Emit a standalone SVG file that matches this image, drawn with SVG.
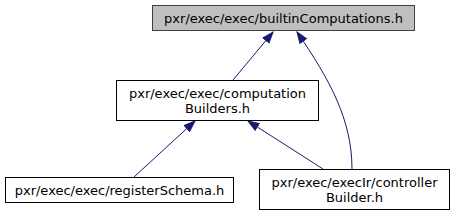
<svg xmlns="http://www.w3.org/2000/svg" width="453" height="216" viewBox="0 0 453 216">
<style>
.node rect{stroke:#000;stroke-width:1;fill:#fff}
#n0 rect{fill:#bfbfbf;stroke:#404040}
.node text{font-family:"DejaVu Sans",sans-serif;font-size:13px;fill:#000;text-anchor:middle}
.edge{fill:none;stroke:#191970;stroke-width:1}
</style>
<defs>
<marker id="arr" markerUnits="userSpaceOnUse" markerWidth="13" markerHeight="10" refX="11.5" refY="5" orient="auto" viewBox="0 0 13 10">
<path d="M0.5,1 L11.5,5 L0.5,9 z" fill="#191970" stroke="#191970"/>
</marker>
</defs>
<g id="edges">
<path class="edge" d="M233,80 L273,32" marker-end="url(#arr)"/>
<path class="edge" d="M352,169 C352,120 330,80 297,32" marker-end="url(#arr)"/>
<path class="edge" d="M323,169 L248,121" marker-end="url(#arr)"/>
<path class="edge" d="M134,177 L195,121" marker-end="url(#arr)"/>
</g>
<g id="n0" class="node">
<rect x="152.5" y="5.5" width="262" height="25"/>
<text x="283.5" y="22.5">pxr/exec/exec/builtinComputations.h</text>
</g>
<g id="n1" class="node">
<rect x="116.5" y="80.5" width="202" height="40"/>
<text x="217.5" y="98">pxr/exec/exec/computation</text>
<text x="217.5" y="113">Builders.h</text>
</g>
<g id="n2" class="node">
<rect x="5.5" y="177.5" width="228" height="25"/>
<text x="119.5" y="194.5">pxr/exec/exec/registerSchema.h</text>
</g>
<g id="n3" class="node">
<rect x="259.5" y="169.5" width="190" height="40"/>
<text x="354.5" y="187">pxr/exec/execIr/controller</text>
<text x="354.5" y="202">Builder.h</text>
</g>
</svg>
